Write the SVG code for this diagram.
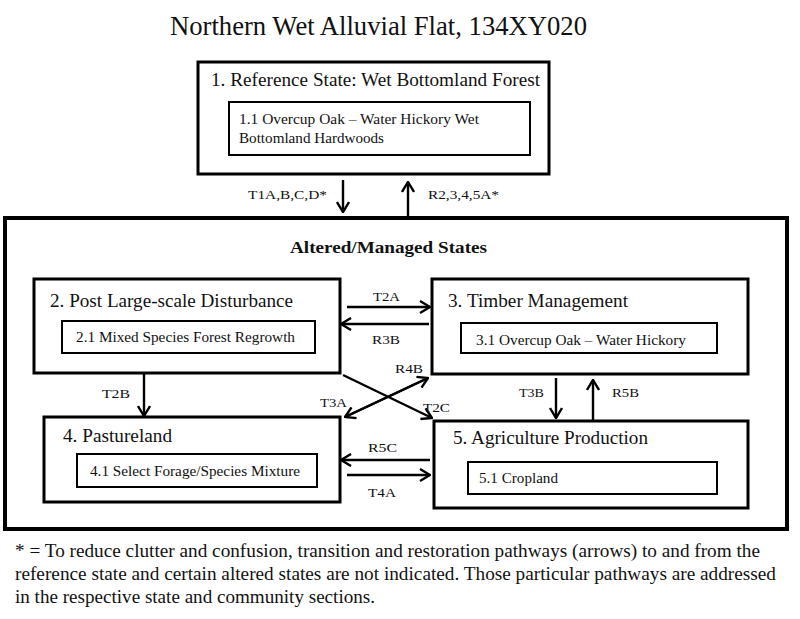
<svg xmlns="http://www.w3.org/2000/svg" width="800" height="619" viewBox="0 0 800 619" font-family="'Liberation Serif', 'Times New Roman', serif">
<defs>
<marker id="arr" viewBox="0 0 12 14" refX="11" refY="7" markerWidth="12" markerHeight="14" markerUnits="userSpaceOnUse" orient="auto">
<path d="M1,1 L11,7 L1,13" fill="none" stroke="#000" stroke-width="2.4"/>
</marker>
</defs>
<style>
text{font-family:'Liberation Serif','Times New Roman',Tinos,serif;fill:#111}
.title{font-size:27px}
.st{font-size:18.5px}
.sub{font-size:14px}
.lbl{font-size:13.5px}
.hdr{font-size:17px;font-weight:bold}
.note{font-size:18.5px}
.outer{fill:#fff;stroke:#000;stroke-width:3}
.inner{fill:#fff;stroke:#000;stroke-width:2}
.big{fill:#fff;stroke:#000;stroke-width:4}
.conn path{fill:none;stroke:#000;stroke-width:2.4;marker-end:url(#arr)}
</style>
<rect width="800" height="619" fill="#fff"/>
<text class="title" x="170" y="35" textLength="417" lengthAdjust="spacingAndGlyphs">Northern Wet Alluvial Flat, 134XY020</text>

<g id="state1">
<rect class="outer" x="198" y="62" width="351" height="112"/>
<text class="st" x="211" y="86" textLength="329" lengthAdjust="spacingAndGlyphs">1. Reference State: Wet Bottomland Forest</text>
<rect class="inner" x="229" y="102" width="301" height="53"/>
<text class="sub" x="239" y="124" textLength="240" lengthAdjust="spacingAndGlyphs">1.1 Overcup Oak – Water Hickory Wet</text>
<text class="sub" x="239" y="143" textLength="145" lengthAdjust="spacingAndGlyphs">Bottomland Hardwoods</text>
</g>

<g id="altered">
<rect class="big" x="5" y="218" width="782" height="311"/>
<text class="hdr" x="290" y="253" textLength="197" lengthAdjust="spacingAndGlyphs">Altered/Managed States</text>
</g>

<g id="state2">
<rect class="outer" x="34" y="279" width="306" height="94"/>
<text class="st" x="50" y="307" textLength="243" lengthAdjust="spacingAndGlyphs">2. Post Large-scale Disturbance</text>
<rect class="inner" x="62" y="321" width="253" height="32"/>
<text class="sub" x="76" y="342" textLength="219" lengthAdjust="spacingAndGlyphs">2.1 Mixed Species Forest Regrowth</text>
</g>

<g id="state3">
<rect class="outer" x="432" y="279" width="316" height="95"/>
<text class="st" x="448" y="307" textLength="180" lengthAdjust="spacingAndGlyphs">3. Timber Management</text>
<rect class="inner" x="461" y="323" width="256" height="30"/>
<text class="sub" x="476" y="345" textLength="210" lengthAdjust="spacingAndGlyphs">3.1 Overcup Oak – Water Hickory</text>
</g>

<g id="state4">
<rect class="outer" x="44" y="417" width="296" height="85"/>
<text class="st" x="63" y="442" textLength="109" lengthAdjust="spacingAndGlyphs">4. Pastureland</text>
<rect class="inner" x="77" y="454" width="240" height="33"/>
<text class="sub" x="90" y="476" textLength="210" lengthAdjust="spacingAndGlyphs">4.1 Select Forage/Species Mixture</text>
</g>

<g id="state5">
<rect class="outer" x="434" y="421" width="314" height="87"/>
<text class="st" x="453" y="444" textLength="195" lengthAdjust="spacingAndGlyphs">5. Agriculture Production</text>
<rect class="inner" x="468" y="462" width="249" height="32"/>
<text class="sub" x="479" y="483" textLength="79" lengthAdjust="spacingAndGlyphs">5.1 Cropland</text>
</g>

<g id="connectors" class="conn">
<path d="M343,180 L343,212"/>
<path d="M408,216 L408,182"/>
<path d="M347,307 L430,307"/>
<path d="M429,324 L341,324"/>
<path d="M343,375 L432,418"/>
<path d="M345,417 L428,378"/>
<path d="M428,378 L345,417"/>
<path d="M430,460 L341,460"/>
<path d="M347,475 L430,475"/>
<path d="M144,373 L144,416"/>
<path d="M556,378 L556,418"/>
<path d="M593,420 L593,380"/>
</g>

<g id="labels">
<text class="lbl" x="248" y="199" textLength="79" lengthAdjust="spacingAndGlyphs">T1A,B,C,D*</text>
<text class="lbl" x="428" y="199" textLength="71" lengthAdjust="spacingAndGlyphs">R2,3,4,5A*</text>
<text class="lbl" x="373" y="301" textLength="27" lengthAdjust="spacingAndGlyphs">T2A</text>
<text class="lbl" x="372" y="344" textLength="28" lengthAdjust="spacingAndGlyphs">R3B</text>
<text class="lbl" x="395" y="373" textLength="28" lengthAdjust="spacingAndGlyphs">R4B</text>
<text class="lbl" x="423" y="412" textLength="27" lengthAdjust="spacingAndGlyphs">T2C</text>
<text class="lbl" x="320" y="407" textLength="27" lengthAdjust="spacingAndGlyphs">T3A</text>
<text class="lbl" x="368" y="452" textLength="29" lengthAdjust="spacingAndGlyphs">R5C</text>
<text class="lbl" x="368" y="497" textLength="28" lengthAdjust="spacingAndGlyphs">T4A</text>
<text class="lbl" x="102" y="398" textLength="28" lengthAdjust="spacingAndGlyphs">T2B</text>
<text class="lbl" x="519" y="397" textLength="25" lengthAdjust="spacingAndGlyphs">T3B</text>
<text class="lbl" x="612" y="397" textLength="27" lengthAdjust="spacingAndGlyphs">R5B</text>
</g>

<g id="footnote">
<text class="note" x="15" y="557" textLength="745" lengthAdjust="spacingAndGlyphs">* = To reduce clutter and confusion, transition and restoration pathways (arrows) to and from the</text>
<text class="note" x="15" y="580" textLength="761" lengthAdjust="spacingAndGlyphs">reference state and certain altered states are not indicated. Those particular pathways are addressed</text>
<text class="note" x="15" y="603" textLength="360" lengthAdjust="spacingAndGlyphs">in the respective state and community sections.</text>
</g>
</svg>
